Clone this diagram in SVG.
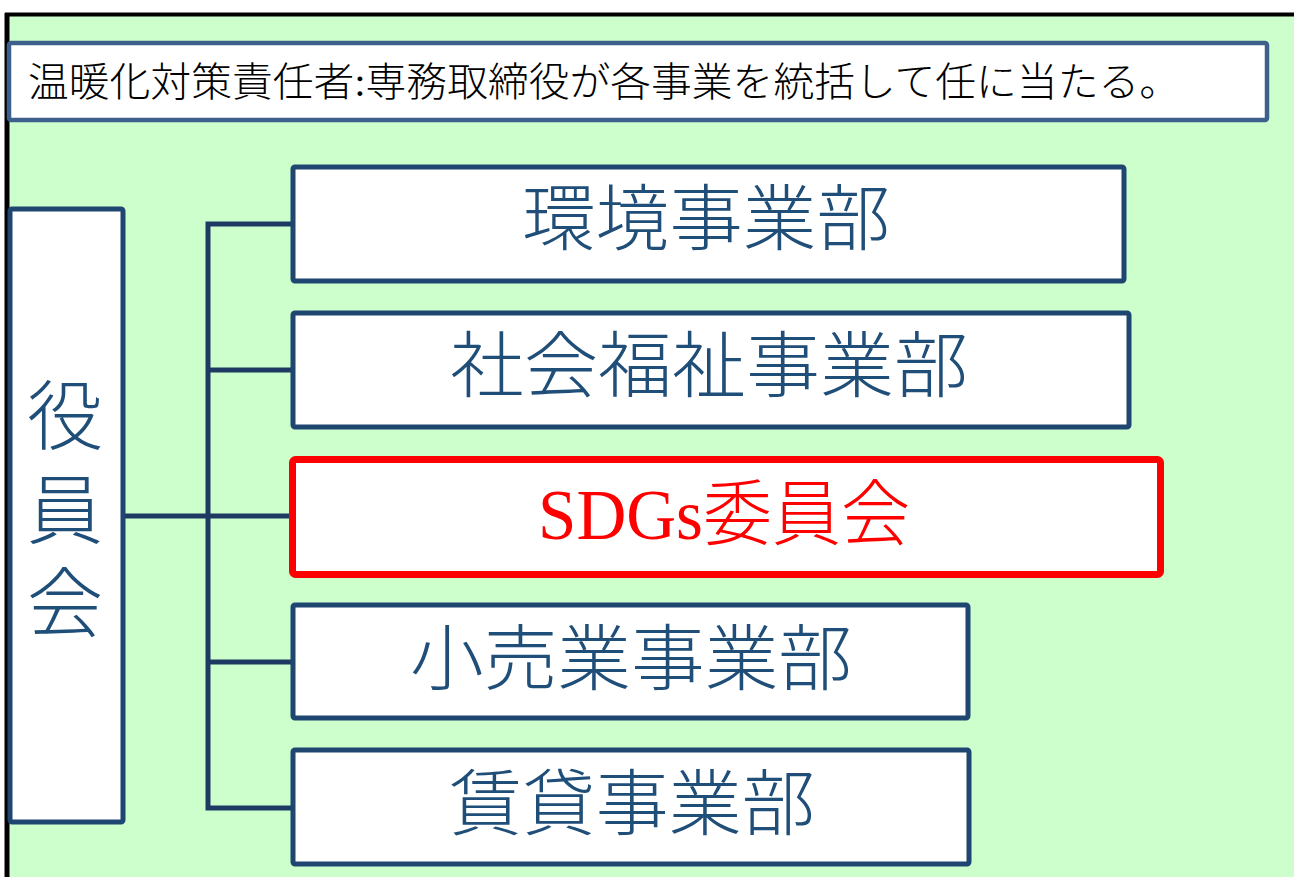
<svg xmlns="http://www.w3.org/2000/svg" width="1294" height="877" viewBox="0 0 1294 877">
<style>
.box{fill:#fff;stroke:#1F4571;stroke-width:5;}
.red{fill:#fff;stroke:#FF0000;stroke-width:7;}
.conn{fill:none;stroke:#1F3A62;stroke-width:5;}
.t{font-family:"Liberation Serif","Noto Sans CJK JP",serif;font-weight:300;fill:#1F4E79;dominant-baseline:central;text-anchor:middle;}
.big{font-size:72px;}
</style>
<rect x="0" y="0" width="1294" height="877" fill="#fff"/>
<rect x="8" y="15" width="1286" height="862" fill="#CCFFCC"/>
<line x1="5" y1="14.5" x2="1294" y2="14.5" stroke="#000" stroke-width="4"/>
<line x1="7" y1="13" x2="7" y2="877" stroke="#000" stroke-width="5"/>
<g id="header">
<rect x="9" y="43" width="1258" height="77" rx="2" fill="#fff" stroke="#3D5F8C" stroke-width="4.5"/>
<text x="28" y="82" font-size="40" textLength="1152" lengthAdjust="spacingAndGlyphs" style="font-family:'Liberation Serif','Noto Sans CJK JP',serif;font-weight:300;fill:#000;dominant-baseline:central;">温暖化対策責任者:専務取締役が各事業を統括して任に当たる。</text>
</g>
<g id="connectors">
<line class="conn" x1="124" y1="516" x2="291" y2="516"/>
<polyline class="conn" points="291,224 208,224 208,808 291,808"/>
<line class="conn" x1="208" y1="370" x2="291" y2="370"/>
<line class="conn" x1="208" y1="662" x2="291" y2="662"/>
</g>
<g id="yakuinkai">
<rect class="box" x="10" y="209" width="113" height="613" rx="2"/>
<text class="t" x="65" y="418" font-size="76">役</text>
<text class="t" x="65" y="512" font-size="76">員</text>
<text class="t" x="65" y="605" font-size="76">会</text>
</g>
<g id="kankyo">
<rect class="box" x="293" y="167" width="831" height="114" rx="2"/>
<text class="t big" x="706" y="220" textLength="368" lengthAdjust="spacingAndGlyphs">環境事業部</text>
</g>
<g id="shakaifukushi">
<rect class="box" x="293" y="313" width="836" height="114" rx="2"/>
<text class="t big" x="709" y="367" textLength="518" lengthAdjust="spacingAndGlyphs">社会福祉事業部</text>
</g>
<g id="sdgs">
<rect class="red" x="292.500" y="459.500" width="868" height="115" rx="3"/>
<text class="t big" x="724" y="515" textLength="372" lengthAdjust="spacingAndGlyphs" style="fill:#FF0000;">SDGs委員会</text>
</g>
<g id="kouri">
<rect class="box" x="293" y="605" width="675" height="113" rx="2"/>
<text class="t big" x="631" y="660" textLength="442" lengthAdjust="spacingAndGlyphs">小売業事業部</text>
</g>
<g id="chintai">
<rect class="box" x="293" y="750" width="676" height="114" rx="2"/>
<text class="t big" x="632" y="805" textLength="366" lengthAdjust="spacingAndGlyphs">賃貸事業部</text>
</g>
</svg>
